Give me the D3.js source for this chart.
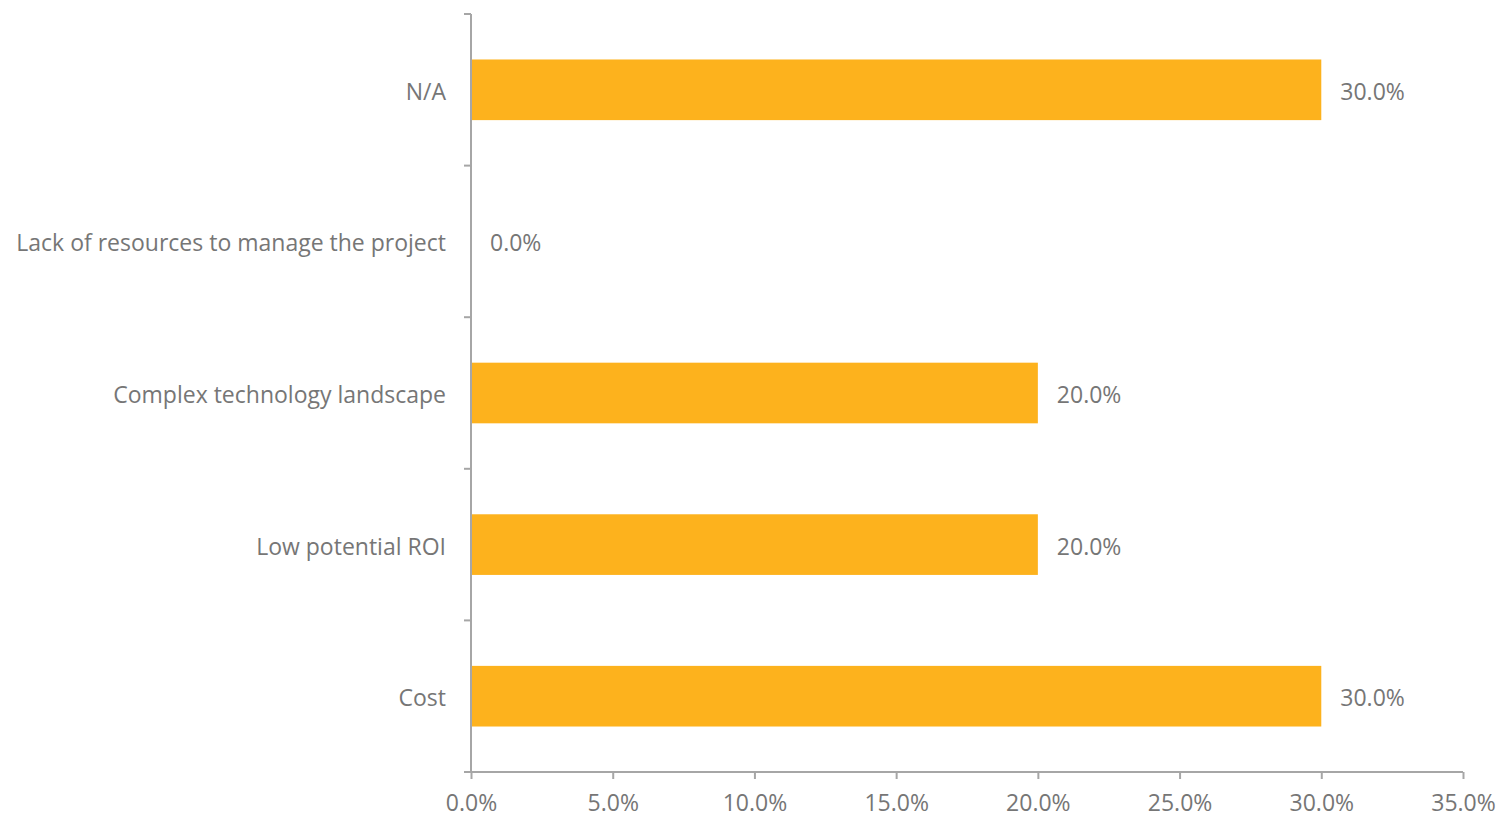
<!DOCTYPE html>
<html>
<head>
<meta charset="utf-8">
<script src="https://cdn.jsdelivr.net/npm/d3@7"></script>
<style>
  body { margin: 0; background: #fff; }
  svg text { font-family: "Open Sans", sans-serif; fill: #767676; }
</style>
</head>
<body>
<svg id="chart" width="1501" height="819"></svg>
<script>
    // Data
    const categories = ["N/A", "Lack of resources to manage the project", "Complex technology landscape", "Low potential ROI", "Cost"];
    const values = [30.0, 0.0, 20.0, 20.0, 30.0];
    const xTicks = [0, 5, 10, 15, 20, 25, 30, 35];

    const margin = {top: 14, left: 471, right: 38, bottom: 47};
    const width = 1501, height = 819;
    const fontSize = "23px";

    const svg = d3.select("#chart");

    const x = d3.scaleLinear().domain([0, 35]).range([margin.left, width - margin.right]);
    const y = d3.scaleBand().domain(categories)
        .range([margin.top, height - margin.bottom])
        .paddingInner(0.6).paddingOuter(0.3);

    const axisColor = "#a6a6a6";

    // bars
    svg.selectAll("rect.bar")
        .data(categories)
        .enter().append("rect")
        .attr("class", "bar")
        .attr("x", x(0))
        .attr("y", d => y(d))
        .attr("width", (d, i) => x(values[i]) - x(0))
        .attr("height", y.bandwidth())
        .attr("fill", "#FDB21D");

    // value labels
    svg.selectAll("text.val")
        .data(categories)
        .enter().append("text")
        .attr("class", "val")
        .attr("x", (d, i) => x(values[i]) + 19)
        .attr("y", d => y(d) + y.bandwidth() / 2 + 2)
        .attr("dy", "0.35em")
        .style("font-size", fontSize)
        .text((d, i) => values[i].toFixed(1) + "%");

    // y axis
    const yAxis = svg.append("g")
        .attr("transform", `translate(${x(0)},0)`);
    yAxis.append("line")
        .attr("y1", margin.top).attr("y2", height - margin.bottom)
        .attr("stroke", axisColor).attr("stroke-width", 2);
    const step = y.step();
    yAxis.selectAll("line.tick")
        .data(d3.range(categories.length + 1))
        .enter().append("line")
        .attr("class", "tick")
        .attr("x1", -7).attr("x2", 0)
        .attr("y1", i => margin.top + i * step)
        .attr("y2", i => margin.top + i * step)
        .attr("stroke", axisColor).attr("stroke-width", 2);
    yAxis.selectAll("text")
        .data(categories)
        .enter().append("text")
        .attr("x", -25)
        .attr("y", d => y(d) + y.bandwidth() / 2 + 2)
        .attr("dy", "0.35em")
        .attr("text-anchor", "end")
        .style("font-size", fontSize)
        .text(d => d);

    // x axis
    const xAxis = svg.append("g")
        .attr("transform", `translate(0,${height - margin.bottom})`)
        .call(d3.axisBottom(x).tickValues(xTicks).tickSize(7).tickPadding(16)
            .tickFormat(d => d.toFixed(1) + "%"));
    xAxis.select(".domain").remove();
    xAxis.insert("line", ":first-child")
        .attr("x1", x(0) - 7).attr("x2", x(35))
        .attr("stroke", axisColor).attr("stroke-width", 2);
    xAxis.selectAll(".tick line").attr("stroke", axisColor).attr("stroke-width", 2);
    xAxis.selectAll(".tick text")
        .style("font-size", fontSize)
        .style("font-family", "'Open Sans', sans-serif")
        .attr("fill", "#767676");
</script>
</body>
</html>
